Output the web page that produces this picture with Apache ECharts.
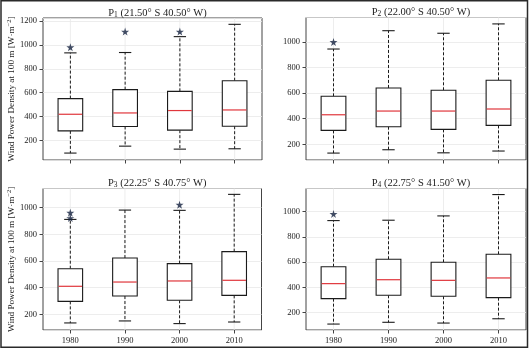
<!DOCTYPE html>
<html>
<head>
<meta charset="utf-8">
<script src="https://cdn.jsdelivr.net/npm/echarts@6/dist/echarts.min.js"></script>
<style>html,body{margin:0;padding:0;background:#fff}#c{width:529px;height:349px}</style>
</head>
<body>
<div id="c"></div>
<script>
// ---- data ----
var categories = ['1980', '1990', '2000', '2010'];
var yTicks = [200, 400, 600, 800, 1000, 1200];
// [low whisker, Q1, median, Q3, high whisker]
var p1Box = [[94, 280, 419, 550, 933], [152, 317, 430, 625, 936], [127, 286, 450, 611, 1069], [130, 319, 455, 700, 1172]];
var p1Out = [[0, 980], [1, 1111], [2, 1111]];
var p2Box = [[132, 309, 431, 575, 944], [158, 338, 460, 640, 1087], [134, 317, 460, 622, 1067], [148, 348, 476, 700, 1140]];
var p2Out = [[0, 999]];
var p3Box = [[135, 297, 410, 542, 912], [150, 337, 442, 622, 982], [130, 305, 450, 580, 980], [142, 342, 455, 670, 1100]];
var p3Out = [[0, 962], [0, 922], [2, 1022]];
var p4Box = [[110, 311, 430, 564, 929], [124, 338, 461, 623, 932], [118, 330, 456, 599, 966], [152, 319, 475, 662, 1135]];
var p4Out = [[0, 982]];
var p1Lim = [36, 1225];
var p2Lim = [78, 1190];
var p3Lim = [82, 1144];
var p4Lim = [63, 1183];
var titles = [
  ['1', '(21.50° S 40.50° W)'],
  ['2', '(22.00° S 40.50° W)'],
  ['3', '(22.25° S 40.75° W)'],
  ['4', '(22.75° S 41.50° W)']
];

// ---- chart ----
var FONT = '"Liberation Serif", "DejaVu Serif", serif';
var TXT = '#222';
var panels = [
  {box: p1Box, out: p1Out, lim: p1Lim, grid: {left: 43, top: 18, width: 219, height: 142}, yName: true, xLabels: false},
  {box: p2Box, out: p2Out, lim: p2Lim, grid: {left: 306, top: 17.5, width: 220, height: 142.5}, yName: false, xLabels: false},
  {box: p3Box, out: p3Out, lim: p3Lim, grid: {left: 43, top: 188.5, width: 218.5, height: 141.5}, yName: true, xLabels: true},
  {box: p4Box, out: p4Out, lim: p4Lim, grid: {left: 306, top: 188.5, width: 220, height: 141.5}, yName: false, xLabels: true}
];

function renderBox(params, api) {
  var i = api.value(0);
  var pLo = api.coord([i, api.value(1)]);
  var pQ1 = api.coord([i, api.value(2)]);
  var pMed = api.coord([i, api.value(3)]);
  var pQ3 = api.coord([i, api.value(4)]);
  var pHi = api.coord([i, api.value(5)]);
  var band = api.size([1, 0])[0];
  var w = band * 0.45, cw = w * 0.5, x = pMed[0];
  var cs = params.coordSys;
  var dark = '#1b1b1b';
  return {
    type: 'group',
    children: [
      {type: 'line', shape: {x1: x, y1: cs.y, x2: x, y2: cs.y + cs.height}, style: {stroke: '#e9e9e9', lineWidth: 0.8}, z2: 0},
      {type: 'line', shape: {x1: x, y1: pQ3[1], x2: x, y2: pHi[1]}, style: {stroke: dark, lineWidth: 1, lineDash: [3, 2]}, z2: 1},
      {type: 'line', shape: {x1: x, y1: pQ1[1], x2: x, y2: pLo[1]}, style: {stroke: dark, lineWidth: 1, lineDash: [3, 2]}, z2: 1},
      {type: 'line', shape: {x1: x - cw / 2, y1: pHi[1], x2: x + cw / 2, y2: pHi[1]}, style: {stroke: dark, lineWidth: 1.1}, z2: 2},
      {type: 'line', shape: {x1: x - cw / 2, y1: pLo[1], x2: x + cw / 2, y2: pLo[1]}, style: {stroke: dark, lineWidth: 1.1}, z2: 2},
      {type: 'rect', shape: {x: x - w / 2, y: pQ3[1], width: w, height: pQ1[1] - pQ3[1]}, style: {fill: '#fff', stroke: dark, lineWidth: 1.1}, z2: 3},
      {type: 'line', shape: {x1: x - w / 2 + 0.5, y1: pMed[1], x2: x + w / 2 - 0.5, y2: pMed[1]}, style: {stroke: '#e0363c', lineWidth: 1.2}, z2: 4}
    ]
  };
}

var STAR = 'path://M50,0 L61,35 L98,35 L68,57 L79,91 L50,70 L21,91 L32,57 L2,35 L39,35 Z';

var option = {
  animation: false,
  backgroundColor: '#fff',
  title: [], grid: [], xAxis: [], yAxis: [], series: [],
  graphic: [{type: 'rect', shape: {x: 1, y: 0.75, width: 526.5, height: 346.5}, style: {fill: 'none', stroke: '#2a2a2a', lineWidth: 1.5}, z: 100}]
};

panels.forEach(function (p, k) {
  option.grid.push(Object.assign({show: true, borderColor: '#444', borderWidth: 1, backgroundColor: 'transparent'}, p.grid));
  option.title.push({
    text: 'P{sub|' + titles[k][0] + '} ' + titles[k][1],
    left: p.grid.left + p.grid.width / 2, top: p.grid.top - 16, textAlign: 'center',
    textStyle: {fontFamily: FONT, fontSize: 10.5, fontWeight: 'normal', color: TXT,
      rich: {sub: {fontFamily: FONT, fontSize: 7.5, color: TXT, verticalAlign: 'bottom', padding: [4, 0, 0, 0]}}}
  });
  option.xAxis.push({
    type: 'category', gridIndex: k, data: categories, boundaryGap: true,
    axisLine: {show: false},
    axisTick: {show: true, alignWithLabel: true, length: 3.5, lineStyle: {color: '#444'}},
    axisLabel: {show: p.xLabels, fontFamily: FONT, fontSize: 8.5, color: TXT, margin: 6},
    splitLine: {show: false}
  });
  option.yAxis.push({
    type: 'value', gridIndex: k, min: p.lim[0], max: p.lim[1], splitNumber: 5,
    name: p.yName ? 'Wind Power Density at 100 m [W·m{sup|−2}]' : '',
    nameLocation: 'middle', nameGap: 25, nameRotate: 90,
    nameTextStyle: {fontFamily: FONT, fontSize: 9.2, color: TXT,
      rich: {sup: {fontFamily: FONT, fontSize: 6.5, color: TXT, verticalAlign: 'top', padding: [0, 0, 4, 0]}}},
    axisLine: {show: false},
    axisTick: {show: true, length: 3.5, lineStyle: {color: '#444'}},
    axisLabel: {fontFamily: FONT, fontSize: 8.5, color: TXT, margin: 6,
      showMinLabel: false, showMaxLabel: false,
      formatter: function (v) { return yTicks.indexOf(v) >= 0 ? String(v) : ''; }},
    splitLine: {show: true, lineStyle: {color: '#e9e9e9', width: 0.8}}
  });
  option.series.push({
    type: 'custom', xAxisIndex: k, yAxisIndex: k, renderItem: renderBox,
    encode: {x: 0, y: [1, 2, 3, 4, 5]}, clip: false,
    data: p.box.map(function (b, i) { return [i].concat(b); })
  });
  option.series.push({
    type: 'scatter', xAxisIndex: k, yAxisIndex: k, symbol: STAR, symbolSize: 8,
    itemStyle: {color: '#13213f'}, z: 5, data: p.out
  });
});

var chart = echarts.init(document.getElementById('c'), null, {renderer: 'canvas'});
chart.setOption(option);
</script>
</body>
</html>
